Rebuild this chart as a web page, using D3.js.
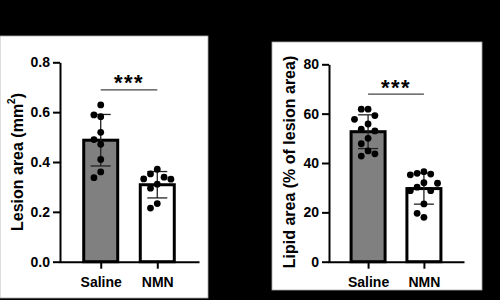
<!DOCTYPE html>
<html>
<head>
<meta charset="utf-8">
<script src="https://cdn.jsdelivr.net/npm/d3@7"></script>
<style>
body { margin: 0; background: #000; }
svg { display: block; font-family: "Liberation Sans", Arial, sans-serif; font-weight: bold; }
</style>
</head>
<body>
<script>
const groups = ["Saline", "NMN"];
const lesionSaline = [0.629, 0.589, 0.582, 0.519, 0.49, 0.471, 0.41, 0.36, 0.337];
const lesionNMN = [0.371, 0.352, 0.339, 0.332, 0.331, 0.311, 0.295, 0.233, 0.215];
const lesionTicks = [0, 0.2, 0.4, 0.6, 0.8];
const lipidSaline = [61.8, 61.8, 59.2, 57.7, 55.8, 53.0, 53.7, 50.0, 47.8, 44.9, 43.7, 42.8];
const lipidNMN = [36.5, 35.8, 35.5, 35.2, 32.0, 31.8, 30.2, 28.8, 28.8, 23.4, 19.6, 18.0];
const lipidTicks = [0, 20, 40, 60, 80];
const barColors = ["#808080", "#ffffff"];

const svg = d3.select("body").append("svg")
  .attr("width", 500)
  .attr("height", 300);

drawPanel({
  box: [0, 36, 208, 262],
  x0: 60, x1: 198, y0: 261.7, y1: 62.3, pad: 0.72,
  series: [lesionSaline, lesionNMN],
  ticks: lesionTicks, fmt: d3.format(".1f"),
  labelX: 17, title: ["Lesion area (mm", "2", ")"]
});

drawPanel({
  box: [272, 42, 210, 248],
  x0: 329, x1: 463, y0: 261.7, y1: 64.3, pad: 0.7,
  series: [lipidSaline, lipidNMN],
  ticks: lipidTicks, fmt: d3.format("d"),
  labelX: 289, title: ["Lipid area (% of lesion area)"]
});

function drawPanel(opt) {
  const g = svg.append("g");
  g.append("rect")
    .attr("x", opt.box[0]).attr("y", opt.box[1])
    .attr("width", opt.box[2]).attr("height", opt.box[3])
    .attr("fill", "#fff")
    .attr("stroke", "#aaa")
    .attr("stroke-width", 0.8);

  const x = d3.scalePoint().domain(groups).range([opt.x0, opt.x1]).padding(opt.pad);
  const y = d3.scaleLinear().domain([0, d3.max(opt.ticks)]).range([opt.y0, opt.y1]);

  const stats = groups.map((name, i) => ({
    name: name,
    values: opt.series[i],
    mean: d3.mean(opt.series[i]),
    sd: d3.deviation(opt.series[i]),
    fill: barColors[i]
  }));

  const bw = 34;
  g.selectAll(".bar")
    .data(stats)
    .enter()
    .append("rect")
    .attr("class", "bar")
    .attr("x", d => x(d.name) - bw / 2)
    .attr("y", d => y(d.mean))
    .attr("width", bw)
    .attr("height", d => y(0) - y(d.mean))
    .attr("fill", d => d.fill)
    .attr("stroke", "#000")
    .attr("stroke-width", 3);

  // error bars (mean +/- SD)
  const err = g.selectAll(".err").data(stats).enter().append("g")
    .attr("stroke", "#222").attr("stroke-width", 1.3);
  err.append("line")
    .attr("x1", d => x(d.name)).attr("x2", d => x(d.name))
    .attr("y1", d => y(d.mean - d.sd)).attr("y2", d => y(d.mean + d.sd));
  err.selectAll(".cap")
    .data(d => [d.mean - d.sd, d.mean + d.sd].map(v => ({ name: d.name, v: v })))
    .enter().append("line")
    .attr("x1", d => x(d.name) - 10).attr("x2", d => x(d.name) + 10)
    .attr("y1", d => y(d.v)).attr("y2", d => y(d.v));

  // dots, spread sideways so they do not overlap
  const r = 3.4, step = 6.8, near = 11;
  stats.forEach(s => {
    const placed = [];
    s.values.slice().sort((a, b) => b - a).forEach(v => {
      const py = y(v);
      let col = 0;
      for (let k = 0; k < 20; k++) {
        col = k === 0 ? 0 : (k % 2 ? -Math.ceil(k / 2) : Math.ceil(k / 2));
        const hit = placed.some(p => p.col === col && Math.abs(p.py - py) < near);
        if (!hit) break;
      }
      placed.push({ col: col, py: py });
    });
    g.selectAll(null)
      .data(placed)
      .enter()
      .append("circle")
      .attr("cx", d => x(s.name) + d.col * step)
      .attr("cy", d => d.py)
      .attr("r", r)
      .attr("fill", "#000");
  });

  // axes
  const yAxis = g.append("g")
    .attr("transform", `translate(${opt.x0},0)`)
    .call(d3.axisLeft(y).tickValues(opt.ticks).tickFormat(opt.fmt)
      .tickSize(7).tickSizeOuter(0).tickPadding(3));
  const xAxis = g.append("g")
    .attr("transform", `translate(0,${y(0)})`)
    .call(d3.axisBottom(x).tickSize(7).tickSizeOuter(0).tickPadding(8));
  [yAxis, xAxis].forEach(a => {
    a.attr("font-family", null).attr("font-size", 14);
    a.selectAll("path, line").attr("stroke", "#000").attr("stroke-width", 2);
    a.selectAll("text").attr("fill", "#000");
  });
  xAxis.select(".domain").attr("stroke-linecap", "square");

  // significance bracket
  const top = y(d3.max(opt.series[0].concat(opt.series[1]))) - 15;
  g.append("line")
    .attr("x1", x(groups[0])).attr("x2", x(groups[1]))
    .attr("y1", top).attr("y2", top)
    .attr("stroke", "#444").attr("stroke-width", 1.2);
  g.append("text")
    .attr("x", (x(groups[0]) + x(groups[1])) / 2)
    .attr("y", top + 0.5)
    .attr("text-anchor", "middle")
    .attr("font-size", 22)
    .attr("letter-spacing", 1.5)
    .text("***");

  // y title
  const title = g.append("text")
    .attr("transform", `translate(${opt.labelX},162) rotate(-90)`)
    .attr("text-anchor", "middle")
    .attr("dominant-baseline", "central")
    .attr("font-size", 16);
  title.append("tspan").text(opt.title[0]);
  if (opt.title.length > 1) {
    title.append("tspan").attr("font-size", 10).attr("dy", -6).text(opt.title[1]);
    title.append("tspan").attr("dy", 6).text(opt.title[2]);
  }
}
</script>
</body>
</html>
